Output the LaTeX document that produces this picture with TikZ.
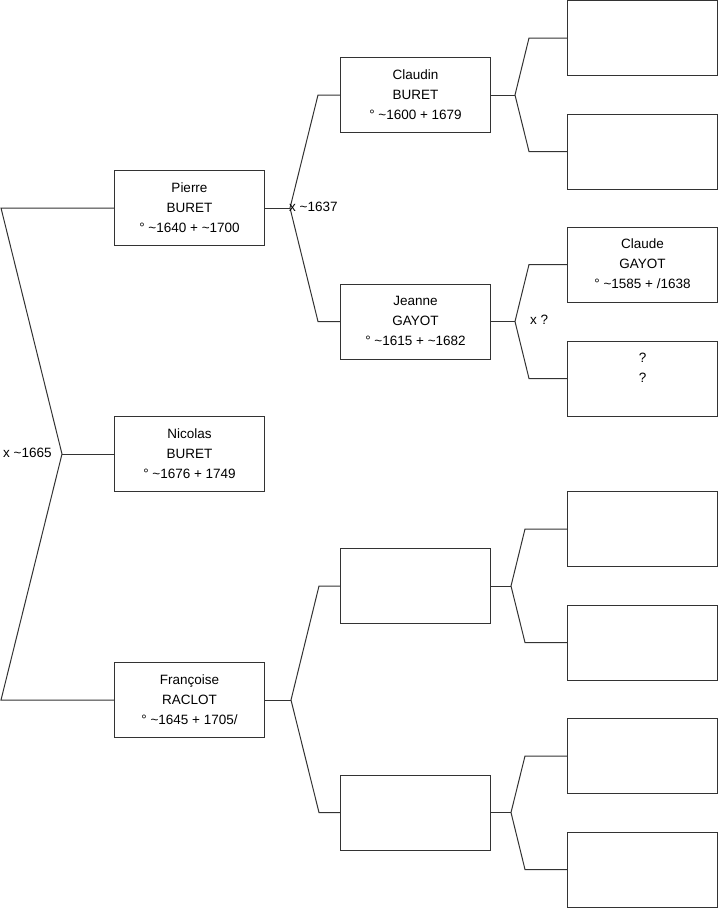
\documentclass[tikz,border=0pt]{standalone}
\usepackage{fontspec}
\setmainfont{Liberation Sans}
\newcommand\tld{\textasciitilde}
\begin{document}
\begin{tikzpicture}[x=1pt,y=-1pt,
  person/.style={draw=black!80,line width=1pt,fill=white,rectangle,minimum width=150pt,minimum height=75pt,inner sep=0pt,align=center,font=\fontsize{13.5}{20}\selectfont},
  link/.style={draw=black!80,line width=1pt},
  lbl/.style={anchor=west,inner sep=0pt,font=\fontsize{13.5}{16}\selectfont}]
\useasboundingbox (0,0) rectangle (719,908);
% generation 1
\node[person] (pierre) at (189.5,208) {\strut Pierre\\\strut BURET\\\strut ° \tld1640 + \tld1700};
\node[person] (nicolas) at (189.5,454) {\strut Nicolas\\\strut BURET\\\strut ° \tld1676 + 1749};
\node[person] (francoise) at (189.5,700) {\strut Françoise\\\strut RACLOT\\\strut ° \tld1645 + 1705/};
% generation 2
\node[person] (claudin) at (415.5,95) {\strut Claudin\\\strut BURET\\\strut ° \tld1600 + 1679};
\node[person] (jeanne) at (415.5,321.5) {\strut Jeanne\\\strut GAYOT\\\strut ° \tld1615 + \tld1682};
\node[person] (b1) at (415.5,586) {};
\node[person] (b2) at (415.5,812.5) {};
% generation 3
\node[person] (c1) at (642.5,38) {};
\node[person] (c2) at (642.5,151.5) {};
\node[person] (claude) at (642.5,264.5) {\strut Claude\\\strut GAYOT\\\strut ° \tld1585 + /1638};
\node[person] (unk) at (642.5,378.5) {\strut ?\\\strut ?\\\strut};
\node[person] (d1) at (642.5,529) {};
\node[person] (d2) at (642.5,642.5) {};
\node[person] (d3) at (642.5,756) {};
\node[person] (d4) at (642.5,869.5) {};
% fork coordinates
\coordinate (r1) at (1,208);
\coordinate (ra) at (62,454);
\coordinate (r2) at (1,700);
\coordinate (pa) at (290,208);
\coordinate (pc1) at (318,95);
\coordinate (pc2) at (318,321.5);
\coordinate (ca) at (515,95);
\coordinate (cc1) at (529,38);
\coordinate (cc2) at (529,151.5);
\coordinate (ja) at (515,321.5);
\coordinate (jc1) at (529,264.5);
\coordinate (jc2) at (529,378.5);
\coordinate (fa) at (291,700);
\coordinate (fc1) at (319,586);
\coordinate (fc2) at (319,812.5);
\coordinate (ba) at (511,586);
\coordinate (bc1) at (525,529);
\coordinate (bc2) at (525,642.5);
\coordinate (bb) at (511,812.5);
\coordinate (bd1) at (525,756);
\coordinate (bd2) at (525,869.5);
% connectors
\draw[link] (pierre.west) -- (r1) -- (ra) -- (r2) -- (francoise.west);
\draw[link] (ra) -- (nicolas.west);
\draw[link] (claudin.west) -- (pc1) -- (pa) -- (pc2) -- (jeanne.west);
\draw[link] (pierre.east) -- (pa);
\draw[link] (c1.west) -- (cc1) -- (ca) -- (cc2) -- (c2.west);
\draw[link] (claudin.east) -- (ca);
\draw[link] (claude.west) -- (jc1) -- (ja) -- (jc2) -- (unk.west);
\draw[link] (jeanne.east) -- (ja);
\draw[link] (b1.west) -- (fc1) -- (fa) -- (fc2) -- (b2.west);
\draw[link] (francoise.east) -- (fa);
\draw[link] (d1.west) -- (bc1) -- (ba) -- (bc2) -- (d2.west);
\draw[link] (b1.east) -- (ba);
\draw[link] (d3.west) -- (bd1) -- (bb) -- (bd2) -- (d4.west);
\draw[link] (b2.east) -- (bb);
% labels
\node[lbl] (m1) at (3,453) {x \tld1665};
\node[lbl] (m2) at (289,207) {x \tld1637};
\node[lbl] (m3) at (530,320) {x ?};
\end{tikzpicture}
\end{document}
